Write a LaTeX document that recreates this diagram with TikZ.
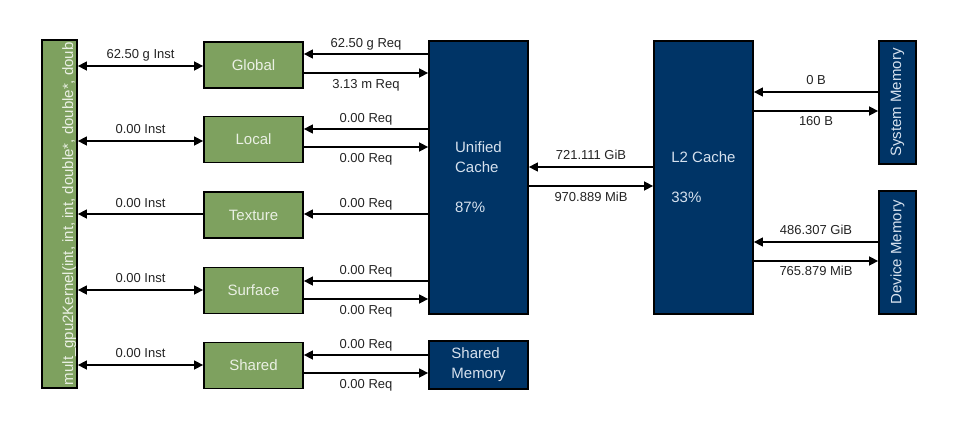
\documentclass[tikz,border=0pt]{standalone}
\usepackage{fontspec}
\setmainfont{Liberation Sans}
\usepackage{graphicx}
\usetikzlibrary{arrows.meta,calc}
\definecolor{kgreen}{RGB}{126,161,95}
\definecolor{kblue}{RGB}{0,52,102}
\definecolor{gtext}{RGB}{234,240,228}
\definecolor{btext}{RGB}{214,225,238}
\definecolor{ltext}{RGB}{35,35,35}
\begin{document}
\begin{tikzpicture}[x=1pt,y=-1pt,
  gbox/.style={draw=black, line width=1.8pt, fill=kgreen, text=gtext,
    font=\fontsize{15}{20}\selectfont, inner sep=0pt,
    minimum width=99pt, minimum height=46pt},
  bbox/.style={draw=black, line width=1.8pt, fill=kblue, text=btext,
    font=\fontsize{15}{20}\selectfont, inner sep=0pt, align=left},
  arr/.style={line width=1.5pt, -{Triangle[length=9pt,width=9pt]}},
  darr/.style={line width=1.5pt, {Triangle[length=9pt,width=9pt]}-{Triangle[length=9pt,width=9pt]}},
  lbl/.style={font=\fontsize{13}{15}\selectfont, text=ltext, inner sep=0pt, anchor=base, midway},
  up/.style={yshift=6.5pt},
  dn/.style={yshift=-15.5pt}]
\useasboundingbox (0,0) rectangle (975,423);

% kernel
\node[draw=black, line width=1.8pt, fill=kgreen, minimum width=35pt, minimum height=348pt, inner sep=0pt,
  path picture={\node[rotate=90, anchor=base west, inner sep=0pt, text=gtext, font=\fontsize{15}{18}\selectfont]
   at ($(path picture bounding box.south east)+(-4,-2)$) {mult\_gpu2Kernel(int, int, int, double*, double*, doub};}]
  (kernel) at (59.5,214) {};

% memory spaces
\node[gbox] (global)  at (253.5,65)    {Global};
\node[gbox] (local)   at (253.5,139.5) {Local};
\node[gbox] (texture) at (253.5,215)   {Texture};
\node[gbox] (surface) at (253.5,290.5) {Surface};
\node[gbox] (shared)  at (253.5,365.5) {Shared};

% caches
\node[bbox, minimum width=99pt, minimum height=273pt] (unified) at (478.5,177.5) {Unified\\Cache\\[20pt]87\%};
\node[bbox, minimum width=99pt, minimum height=48pt] (sharedmem) at (478.5,365) {Shared\\Memory};
\node[bbox, minimum width=99pt, minimum height=273pt] (l2) at (703.5,177.5) {L2 Cache\\[20pt]33\%};
\node[bbox, minimum width=37pt, minimum height=123pt] (sysmem) at (897.5,102.5) {\rotatebox{90}{System Memory}};
\node[bbox, minimum width=37pt, minimum height=123pt] (devmem) at (897.5,252.5) {\rotatebox{90}{Device Memory}};

% kernel <-> memory spaces
\draw[darr] (kernel.east |- 0,66) -- (global.west |- 0,66) node[lbl,up,yshift=1pt]{62.50 g Inst};
\draw[darr] (kernel.east |- 0,141) -- (local.west |- 0,141) node[lbl,up,yshift=1pt]{0.00 Inst};
\draw[arr] (texture.west |- 0,214) -- (kernel.east |- 0,214) node[lbl,up]{0.00 Inst};
\draw[darr] (kernel.east |- 0,290) -- (surface.west |- 0,290) node[lbl,up,yshift=1pt]{0.00 Inst};
\draw[darr] (kernel.east |- 0,365) -- (shared.west |- 0,365) node[lbl,up,yshift=1pt]{0.00 Inst};

% memory spaces <-> unified / shared memory
\draw[arr] (unified.west |- 0,54) -- (global.east |- 0,54) node[lbl,up]{62.50 g Req};
\draw[arr] (global.east |- 0,73) -- (unified.west |- 0,73) node[lbl,dn]{3.13 m Req};
\draw[arr] (unified.west |- 0,129) -- (local.east |- 0,129) node[lbl,up]{0.00 Req};
\draw[arr] (local.east |- 0,147) -- (unified.west |- 0,147) node[lbl,dn]{0.00 Req};
\draw[arr] (unified.west |- 0,214) -- (texture.east |- 0,214) node[lbl,up]{0.00 Req};
\draw[arr] (unified.west |- 0,281) -- (surface.east |- 0,281) node[lbl,up]{0.00 Req};
\draw[arr] (surface.east |- 0,299) -- (unified.west |- 0,299) node[lbl,dn]{0.00 Req};
\draw[arr] (sharedmem.west |- 0,355) -- (shared.east |- 0,355) node[lbl,up]{0.00 Req};
\draw[arr] (shared.east |- 0,373) -- (sharedmem.west |- 0,373) node[lbl,dn]{0.00 Req};

% unified <-> L2
\draw[arr] (l2.west |- 0,167) -- (unified.east |- 0,167) node[lbl,up,yshift=1pt]{721.111 GiB};
\draw[arr] (unified.east |- 0,186) -- (l2.west |- 0,186) node[lbl,dn]{970.889 MiB};

% L2 <-> memories
\draw[arr] (sysmem.west |- 0,92) -- (l2.east |- 0,92) node[lbl,up,yshift=1pt]{0 B};
\draw[arr] (l2.east |- 0,111) -- (sysmem.west |- 0,111) node[lbl,dn,yshift=1pt]{160 B};
\draw[arr] (devmem.west |- 0,242) -- (l2.east |- 0,242) node[lbl,up,yshift=1pt]{486.307 GiB};
\draw[arr] (l2.east |- 0,261) -- (devmem.west |- 0,261) node[lbl,dn,yshift=1pt]{765.879 MiB};
\end{tikzpicture}
\end{document}
